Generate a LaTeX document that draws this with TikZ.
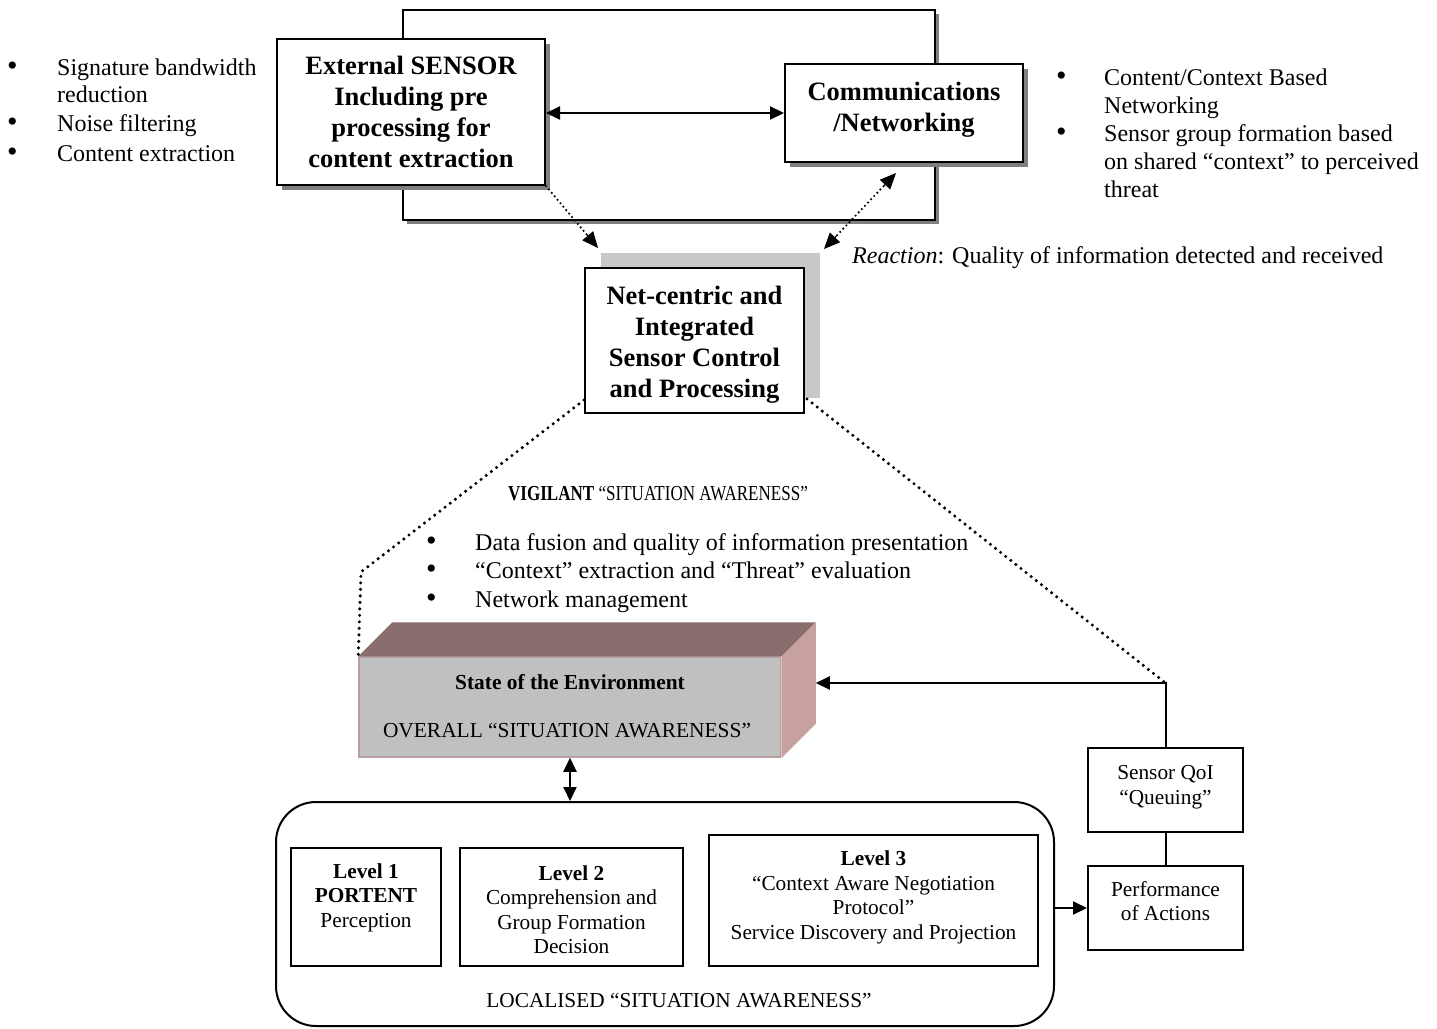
\documentclass[tikz,border=0pt]{standalone}
\usepackage{fontspec}
\setmainfont{Liberation Serif}
\newfontfamily\condfont[FakeStretch=0.8]{Liberation Serif}
\usetikzlibrary{arrows.meta,shadows,calc}
\definecolor{topface}{RGB}{138,110,110}
\definecolor{sideface}{RGB}{201,160,160}
\definecolor{frontface}{RGB}{192,192,192}
\definecolor{frontedge}{RGB}{185,160,160}
\definecolor{shdark}{RGB}{128,128,128}
\definecolor{shlight}{RGB}{200,200,200}
\newcommand\szA{\fontsize{24}{28}\selectfont}
\newcommand\szB{\fontsize{26.5}{31}\selectfont}
\newcommand\szC{\fontsize{21.3}{24.5}\selectfont}
\newcommand\bigbul{{\fontsize{30}{30}\selectfont •}}
\begin{document}
\begin{tikzpicture}[x=1pt,y=-1pt,
  box/.style={draw,line width=2pt,fill=white,inner sep=0pt},
  boxsh/.style={box,drop shadow={shadow xshift=5pt,shadow yshift=-5pt,fill=shdark,opacity=1}},
  txt/.style={inner sep=0pt,align=center},
  bul/.style={anchor=west,inner sep=0pt,text height=0.7em,text depth=0.2em,font=\szA,yshift=-6pt},
  arr/.style={line width=2pt,-{Triangle[length=14pt,width=13pt]}},
  arrd/.style={line width=2pt,{Triangle[length=14pt,width=13pt]}-{Triangle[length=14pt,width=13pt]}},
  dotl/.style={line width=3.4pt,dash pattern=on 0pt off 6.5pt,line cap=round},
  dota/.style={line width=2.4pt,dash pattern=on 0pt off 4.5pt,line cap=round},
  tipa/.style={line width=1pt,-{Triangle[length=16pt,width=14pt]}}
]
\useasboundingbox (0,0) rectangle (1437,1028);

% top group
\node[box,drop shadow={shadow xshift=4pt,shadow yshift=-4pt,fill=shdark,opacity=1},minimum width=532pt,minimum height=210pt] (frame) at (669,115) {};
\node[boxsh,minimum width=268pt,minimum height=146pt,font=\szB\bfseries,align=center] (sensor) at (411,112) {External SENSOR\\Including pre\\processing for\\content extraction};
\node[boxsh,minimum width=238pt,minimum height=98pt] (comms) at (904,113) {};
\node[txt,font=\szB\bfseries] (commst) at (904,110) {Communications\\/Networking};
\draw[arrd] (sensor.east |- comms.west) -- (comms.west);

% left bullets
\node[bul] (lb1) at (7,67) {\bigbul};
\node[bul] (lt1) at (57,67) {Signature bandwidth};
\node[bul] (lt2) at (57,94) {reduction};
\node[bul] (lb2) at (7,123) {\bigbul};
\node[bul] (lt3) at (57,123) {Noise filtering};
\node[bul] (lb3) at (7,153) {\bigbul};
\node[bul] (lt4) at (57,153) {Content extraction};

% right bullets
\node[bul] (rb1) at (1056,77) {\bigbul};
\node[bul] (rt1) at (1104,77) {Content/Context Based};
\node[bul] (rt2) at (1104,105) {Networking};
\node[bul] (rb2) at (1056,133) {\bigbul};
\node[bul] (rt3) at (1104,133) {Sensor group formation based};
\node[bul] (rt4) at (1104,161) {on shared “context” to perceived};
\node[bul] (rt5) at (1104,189) {threat};

\node[bul] (react) at (852,255) {\textit{Reaction}: Quality of information detected and received};

% central box
\node[box,drop shadow={shadow xshift=16pt,shadow yshift=15pt,fill=shlight,opacity=1},minimum width=219pt,minimum height=145pt] (net) at (694.5,340.5) {};
\node[txt,font=\szB\bfseries] (nett) at (694.5,345) {Net-centric and\\Integrated\\Sensor Control\\and Processing};

\coordinate (tipL) at ($(net.north west)+(14,-19)$);
\coordinate (tipR) at ($(net.north east)+(19,-18)$);
\coordinate (tipC) at ($(comms.south)+(-8,10)$);
\draw[dota] (sensor.south east) -- ($(tipL)!10pt!(sensor.south east)$);
\draw[tipa] ($(tipL)!18pt!(sensor.south east)$) -- (tipL);
\draw[dota] ($(tipR)!10pt!(tipC)$) -- ($(tipC)!10pt!(tipR)$);
\draw[tipa] ($(tipR)!18pt!(tipC)$) -- (tipR);
\draw[tipa] ($(tipC)!18pt!(tipR)$) -- (tipC);

% vigilant
\node[txt,font=\condfont\fontsize{21.3}{24}\selectfont] (vig) at (658,494) {\textbf{VIGILANT} “SITUATION AWARENESS”};
\node[bul] (mb1) at (426,542) {\bigbul};
\node[bul] (mt1) at (475,542) {Data fusion and quality of information presentation};
\node[bul] (mb2) at (426,570) {\bigbul};
\node[bul] (mt2) at (475,570) {“Context” extraction and “Threat” evaluation};
\node[bul] (mb3) at (426,599) {\bigbul};
\node[bul] (mt3) at (475,599) {Network management};

% 3D box
\node[draw=frontedge,line width=1.5pt,fill=frontface,minimum width=422pt,minimum height=100pt,inner sep=0pt] (env) at (570,707) {};
\path (env.north west) ++(34,-34) coordinate (tl2);
\path (env.north east) ++(34,-34) coordinate (tr2);
\path (env.south east) ++(34,-34) coordinate (br2);
\fill[topface] (env.north west) -- (tl2) -- (tr2) -- (env.north east) -- cycle;
\fill[sideface] (env.north east) -- (tr2) -- (br2) -- (env.south east) -- cycle;
\draw[frontedge!60!white,line width=1pt] (env.north east) -- (env.south east);
\node[txt,font=\fontsize{21.4}{24}\selectfont\bfseries] (envt1) at (570,682) {State of the Environment};
\node[txt,font=\fontsize{21.4}{24}\selectfont] (envt2) at (567,731) {OVERALL “SITUATION AWARENESS”};
\coordinate (envr) at ($(env.east)+(34,-24)$);

% dotted links from central box
\coordinate (dl) at (361,572);
\draw[dotl] ($(net.south west)+(0,-14)$) -- (dl) -- (env.north west);
\node[box,minimum width=155pt,minimum height=84pt] (qoi) at (1165.5,790) {};
\node[txt,font=\szC] (qoit) at (1165.5,787) {Sensor QoI\\“Queuing”};
\node[box,minimum width=155pt,minimum height=84pt] (perf) at (1165.5,908) {};
\node[txt,font=\szC] (perft) at (1165.5,901) {Performance\\of Actions};
\coordinate (corner) at (qoi.north |- envr);
\draw[dotl] ($(net.south east)+(2,-15)$) -- (corner);
\draw[arr] (qoi.north) |- (envr);
\draw[line width=2pt] (qoi.south) -- (perf.north);

% localised
\node[draw,line width=2pt,rounded corners=40pt,minimum width=778pt,minimum height=224pt,inner sep=0pt] (local) at (665,914) {};
\draw[arrd] (env.south) -- (env.south |- local.north);
\draw[arr] (local.east |- perf.west) -- (perf.west);
\node[box,minimum width=150pt,minimum height=118pt] (lv1) at (366,907) {};
\node[txt,font=\szC] (lv1t) at (366,897.5) {\textbf{Level 1}\\\textbf{PORTENT}\\Perception};
\node[box,minimum width=223pt,minimum height=118pt] (lv2) at (571.5,907) {};
\node[txt,font=\szC] (lv2t) at (571.5,909.5) {\textbf{Level 2}\\Comprehension and\\Group Formation\\Decision};
\node[box,minimum width=329pt,minimum height=131pt] (lv3) at (873.5,900.5) {};
\node[txt,font=\szC] (lv3t) at (873.5,897.5) {\textbf{Level 3}\\“Context Aware Negotiation\\Protocol”\\Service Discovery and Projection};
\node[txt,font=\szC] (loc) at (679,1001) {LOCALISED “SITUATION AWARENESS”};
\end{tikzpicture}
\end{document}
